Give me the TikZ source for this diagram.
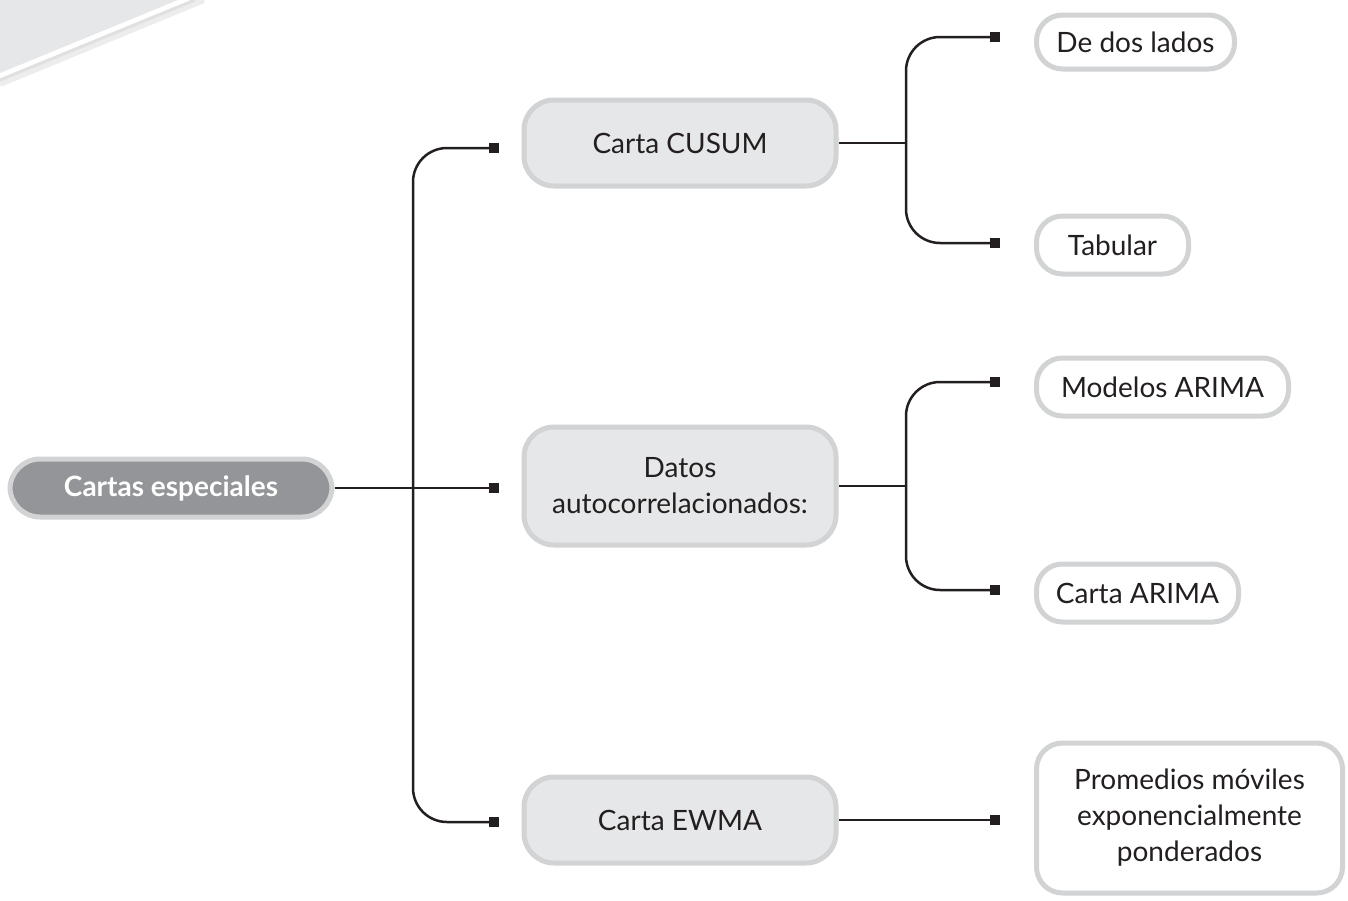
\documentclass[tikz,border=0pt]{standalone}
\usepackage{fontspec}
\setmainfont{Lato}
\usetikzlibrary{arrows.meta, positioning, calc}
\definecolor{cartagray}{HTML}{939598}
\definecolor{cartalight}{HTML}{E6E7E8}
\definecolor{cartaedge}{HTML}{D1D3D4}
\definecolor{cartaline}{HTML}{231F20}
\tikzset{
  rootbox/.style={draw=cartaedge, fill=cartagray, line width=2.5pt, rounded corners=15pt,
    text=white, font=\fontsize{14}{17}\selectfont\bfseries, minimum width=161pt, minimum height=29pt},
  midbox/.style={draw=cartaedge, fill=cartalight, line width=2.5pt, rounded corners=15pt,
    text=cartaline, font=\fontsize{14}{18}\selectfont, align=center,
    minimum width=156pt, minimum height=43pt},
  leafbox/.style={draw=cartaedge, fill=white, line width=2.5pt, rounded corners=13pt,
    text=cartaline, font=\fontsize{14}{18}\selectfont, align=center,
    minimum height=29pt, anchor=west},
  conn/.style={draw=cartaline, line width=1.25pt, -{Square[length=5pt,width=5pt]}},
  link/.style={draw=cartaline, line width=1.25pt}
}
\begin{document}
\begin{tikzpicture}[x=0.5pt, y=-0.5pt]
  \useasboundingbox (0,0) rectangle (1348,900);

  % corner decoration
  \fill[cartalight] (0,0) -- (178,0) -- (0,73) -- cycle;
  \draw[black!7, line width=3pt] (0,84) -- (204,0);
  \draw[black!12, line width=1.5pt] (0,80) -- (195,0);

  % nodes
  \node[rootbox] (root) at (171,488) {Cartas especiales};

  \node[midbox] (cusum) at (680,143) {Carta CUSUM};
  \node[midbox, minimum height=59pt] (datos) at (680,486) {Datos\\autocorrelacionados:};
  \node[midbox] (ewma) at (680,820) {Carta EWMA};

  \node[leafbox, minimum width=99pt, minimum height=27pt] (doslados) at (1034,42) {De dos lados};
  \node[leafbox, minimum width=76pt] (tabular) at (1034,245) {Tabular};
  \node[leafbox, minimum width=126pt] (modelos) at (1034,387) {Modelos ARIMA};
  \node[leafbox, minimum width=101pt] (cartaarima) at (1034,593) {Carta ARIMA};
  \node[leafbox, minimum width=153pt, minimum height=75pt] (promedios) at (1034,818)
    {Promedios móviles\\exponencialmente\\ponderados};

  % free ends of the connectors
  \coordinate (trunk) at (413,0);
  \coordinate (forka) at (906,0);
  \coordinate (cusum-in) at (499,148);
  \coordinate (datos-in) at (499,488);
  \coordinate (ewma-in) at (499,822);
  \coordinate (doslados-in) at (1000,37);
  \coordinate (tabular-in) at (1000,243);
  \coordinate (modelos-in) at (1000,382);
  \coordinate (cartaarima-in) at (1000,590);
  \coordinate (promedios-in) at (1000,820);

  % root to level one
  \draw[conn] (root.east) -- (datos-in);
  \draw[conn, rounded corners=17pt] (root.east -| trunk) |- (cusum-in);
  \draw[conn, rounded corners=17pt] (root.east -| trunk) |- (ewma-in);

  % CUSUM
  \draw[link] (cusum.east) -- (cusum.east -| forka);
  \draw[conn, rounded corners=17pt] (cusum.east -| forka) |- (doslados-in);
  \draw[conn, rounded corners=17pt] (cusum.east -| forka) |- (tabular-in);

  % datos autocorrelacionados
  \draw[link] (datos.east) -- (datos.east -| forka);
  \draw[conn, rounded corners=17pt] (datos.east -| forka) |- (modelos-in);
  \draw[conn, rounded corners=17pt] (datos.east -| forka) |- (cartaarima-in);

  % EWMA
  \draw[conn] (ewma.east |- promedios-in) -- (promedios-in);
\end{tikzpicture}
\end{document}
